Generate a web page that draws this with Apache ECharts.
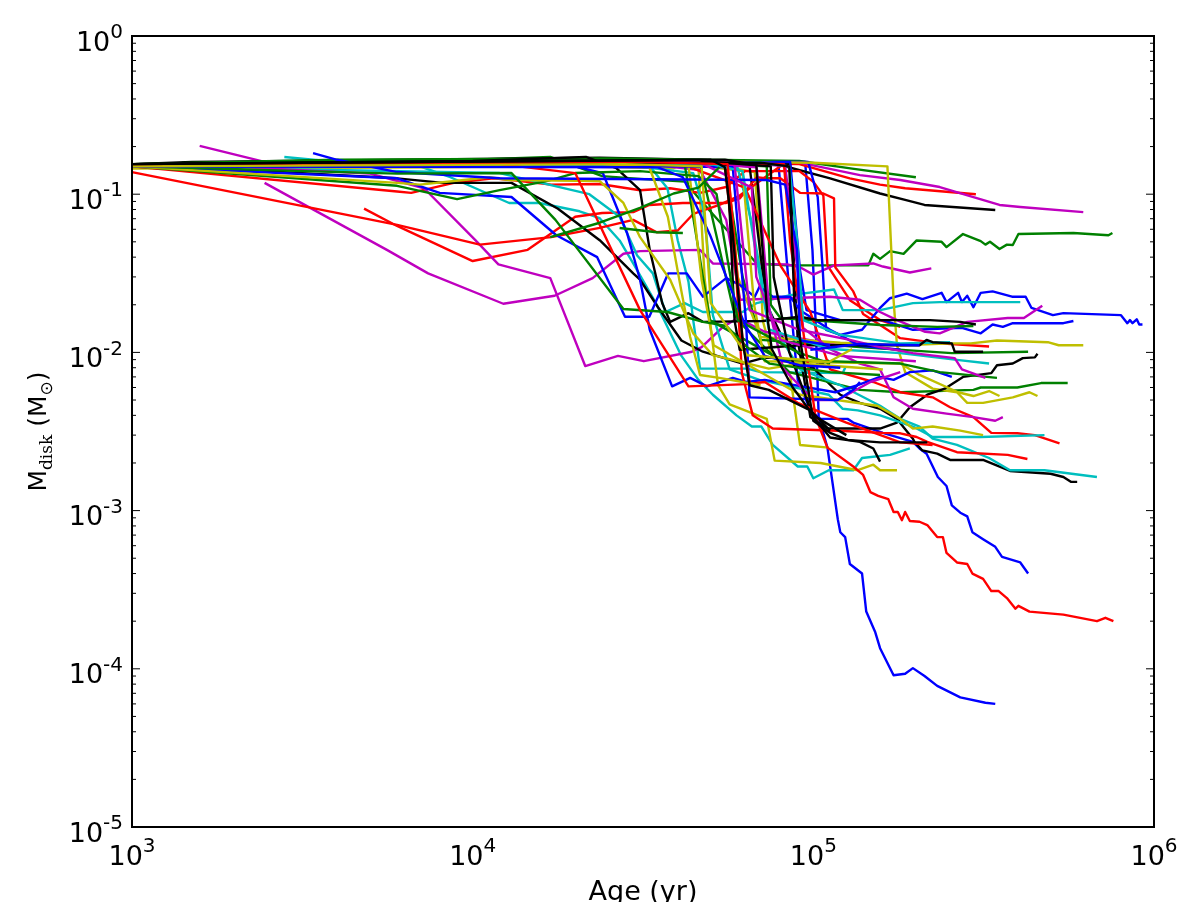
<!DOCTYPE html>
<html lang="en">

<head>
  <meta charset="UTF-8">
  <title>Disk mass vs age</title>
  <script src="https://cdn.jsdelivr.net/npm/echarts@6/dist/echarts.min.js"></script>
  <style>
    body {
      margin: 0;
      background: #fff;
      overflow: hidden;
    }

    #main {
      width: 1177px;
      height: 902px;
    }
  </style>
</head>

<body>
  <div id="main"></div>

  <script>
    // every track is [age in kyr, disk mass in Msun]
    const blue1 = [[1, .152], [20, .158], [60, .16], [94.6, .16], [99.4, .0445], [101.5, .016], [103.7, .0039], [110, .0025], [118, .00088], [120, .00073], [124, .00068], [128, .00046], [139, .0004], [143, .00023], [152, .00017], [157, .000135], [172, .000091], [186, .000093], [196, .000101], [212, .00009], [231, .000078], [270, .000066], [320, .000061], [342, .00006]];
    const green1 = [[1.4, .158], [10, .165], [16.9, .172], [24, .13], [31, .125], [42, .12], [47.4, .088], [68.2, .0365], [83.8, .0355], [145, .0355], [150, .042], [157, .039], [168, .0437], [184, .042], [201, .051], [238, .05], [246, .0463], [275, .056], [310, .0505], [320, .048], [330, .05], [352, .045], [370, .048], [385, .0477], [400, .056], [580, .0568], [735, .055], [755, .0568]];
    const red1 = [[1, .155], [46, .158], [91, .155], [128, .126], [157, .115], [186, .109], [300, .1]];
    const cyan1 = [[2.8, .172], [4, .16], [7, .15], [8.6, .128], [12.8, .088], [15.7, .088], [20.6, .078], [23.6, .0705], [27, .051], [29.6, .0365], [34.5, .0205], [41, .0095], [46, .0067], [50.7, .0054], [59.5, .004], [66, .0034], [70.4, .0034], [76, .0026], [90, .0019], [96, .0019], [100, .0016], [111, .0018], [131, .0018], [139, .00215], [168, .00225], [192, .00247]];
    const magenta1 = [[1.58, .202], [2.45, .16], [6, .158], [23.6, .16], [89, .16], [137, .132], [180, .123], [235, .111], [352, .0855], [405, .083], [620, .077]];
    const olive1 = [[1, .145], [20, .15], [38.9, .146], [42.5, .16], [47.4, .16], [58, .146], [67.3, .138], [69.5, .051], [71, .016], [75.5, .0097], [85.5, .0072], [91.4, .0026], [111, .0025]];
    const black1 = [[1, .155], [1.5, .16], [23.6, .17], [46.5, .165], [80, .153], [112, .126], [157, .101], [186, .092], [212, .0855], [342, .0795]];

    const blue2 = [[1, .15], [30, .155], [79, .155], [85.5, .0214], [90, .0067], [98, .0043], [105, .0038], [126, .0038], [131, .0036], [160, .0031], [196, .00272], [198, .0027], [205, .00247], [215, .00229], [232, .00163], [246, .00143], [255, .00108], [270, .00097], [283, .00092], [293, .00073], [315, .00066], [342, .00059], [358, .00051], [405, .00047], [427, .0004]];
    const green2 = [[1, .155], [4, .165], [25, .168], [91, .162], [130, .145], [200, .128]];
    const red2 = [[1, .15], [6, .104], [6.6, .102], [8.8, .118], [11.5, .126], [13, .123], [17, .115], [23.6, .116], [31, .106], [38, .109], [46.5, .102], [55.5, .111], [63, .14], [91, .14], [100, .12], [107, .098], [110, .0355], [128, .0214], [157, .016], [180, .0145]];
    const cyan2 = [[1, .15], [25, .155], [33.1, .15], [37.3, .109], [40, .051], [43, .028], [44.4, .016], [46.5, .0079], [63.9, .0079], [70, .0075], [122, .0074], [124, .008]];
    const magenta2 = [[2.45, .118], [5.6, .0445], [7.4, .0316], [12.3, .0203], [17.4, .0228], [22.5, .0295], [27.7, .042], [31, .0437], [46.5, .0445], [50.7, .0365], [83.8, .036], [91.4, .0345], [100, .031], [115, .0355], [150, .0365], [160, .0349], [192, .032], [222, .034]];
    const olive2 = [[1.3, .146], [30, .15], [46, .148], [48, .0288], [52.5, .0062], [56.8, .0047], [73, .0038], [77, .00207], [105, .002], [135, .0018], [150, .00195], [157, .0018], [176, .0018]];
    const black2 = [[1, .155], [40, .16], [65, .15], [73, .02], [81, .0125], [120, .0054], [137, .0048], [157, .0044], [176, .0038], [196, .00285], [198, .00272], [209, .0024], [231, .00229], [252, .00209], [315, .00209], [378, .00178], [497, .00171], [542, .00163], [570, .00152], [595, .00152]];

    const blue3 = [[1, .15], [60, .155], [76, .16], [96.6, .16], [103, .096], [106.6, .033], [109, .0139], [120, .0129], [139, .0139], [157, .0191], [168, .022], [188, .0235], [209, .0217], [238, .0238], [246, .0208], [266, .0238], [273, .0208], [283, .0228], [295, .0193], [310, .0238], [336, .0243], [383, .0225], [420, .0225], [437, .0191], [505, .0172], [542, .0177], [800, .0172], [835, .0153], [850, .016], [865, .0153], [890, .0162], [905, .015], [925, .015]];
    const green3 = [[1, .152], [30, .16], [46.5, .155], [59, .0165], [85, .0075], [137, .0058], [180, .0056], [295, .0058], [310, .006], [397, .006], [466, .0064], [558, .0064]];
    const red3 = [[4.8, .081], [6, .063], [10, .0378], [14.5, .0445], [20, .072], [24, .076], [29.6, .077], [33, .0855], [41.4, .088], [55.5, .088], [60.8, .094], [68.2, .128], [73, .126], [80, .126], [91.4, .102], [107, .101], [115, .094], [116, .0345], [131, .0243], [140, .0175], [157, .0149], [180, .0123], [235, .0114], [328, .0109]];
    const cyan3 = [[1, .15], [12, .136], [22, .1], [27, .072], [30.4, .041], [33.8, .0316], [36.8, .018], [41.9, .0205], [47.4, .018], [62, .018], [68.2, .0205], [85.5, .023], [115, .025], [122, .0185], [157, .0185], [196, .0205], [235, .0208], [346, .0208], [405, .0208]];
    const magenta3 = [[1.9, .15], [5, .135], [7.2, .109], [10.2, .051], [11.9, .036], [16.9, .0295], [21.4, .0082], [26.7, .0095], [31.8, .0088], [44, .0101], [47, .0108], [53.9, .0143], [60, .0165], [72, .0135], [112, .0113], [180, .0104]];
    const olive3 = [[2, .148], [30, .16], [60, .16], [100, .158], [165, .15], [172, .0214], [176, .0111], [186, .0075], [224, .0059], [264, .0056], [283, .0048], [315, .0048], [385, .0052], [431, .0056], [455, .0053]];
    const black3 = [[1, .155], [60, .16], [85.5, .155], [88, .03], [90, .012], [98, .0039], [110, .0033], [157, .0033], [176, .0036], [192, .0045], [216, .0054], [243, .0059], [275, .007], [333, .0074], [346, .0083], [385, .0085], [412, .0092], [447, .0093], [455, .0098]];

    const blue4 = [[1, .15], [40, .155], [85.5, .16], [91.4, .033], [95.5, .0185], [120, .016], [160, .016], [196, .0139], [273, .0143], [310, .0132], [336, .015], [360, .0145], [385, .0153], [542, .0153], [580, .0158]];
    const green4 = [[1.3, .155], [40, .158], [55, .15], [62, .03], [70, .012], [137, .0108], [255, .0099], [427, .0101]];
    const red4 = [[1, .138], [6, .064], [10.5, .048], [17, .0535], [23.6, .0612], [29.6, .0688], [34.7, .0575], [40, .059], [44.4, .075], [53, .0855], [60.8, .098], [80, .15]];
    const cyan4 = [[1, .15], [30, .155], [55, .152], [60, .146], [66, .066], [71, .0267], [77, .0143], [91.4, .0078], [120, .0062], [157, .0046], [180, .0038], [205, .0034], [224, .00285], [264, .0026], [328, .00215], [378, .0018], [477, .0018], [680, .00163]];
    const magenta4 = [[1, .152], [30, .158], [46.5, .142], [55.5, .0688], [61, .0215], [112, .0225], [137, .0215], [157, .018], [176, .016], [213, .0135], [235, .0132], [283, .0156], [372, .0165], [415, .0165], [470, .0197]];
    const olive4 = [[1, .15], [35, .158], [56, .15], [60, .03], [70, .0125], [120, .0115], [180, .0111], [255, .0114], [290, .0114], [346, .0119], [488, .0116], [525, .0111], [620, .0111]];
    const black4 = [[1, .155], [6, .126], [8.2, .118], [13, .118], [17.8, .081], [23.6, .0512], [27, .0385], [29.6, .0316], [31, .0288], [35, .0193], [41, .0119], [47.4, .0101], [62, .0085], [71, .0092], [80, .0093], [88.5, .0083], [96, .0078], [111, .0089]];

    const blue5 = [[1, .15], [6, .126], [8, .102], [13, .096], [17.6, .055], [23.2, .04], [28, .0168], [33, .0168], [37.5, .0316], [42.5, .0316], [47.4, .0225], [55.5, .0295], [60.8, .0267], [67.3, .0225], [69.5, .026], [76, .0225], [85.5, .0225], [91.4, .0185], [112, .0139], [137, .011], [180, .0104]];
    const green5 = [[1, .15], [50, .156], [73, .15], [75, .02], [80, .0165], [157, .0149], [231, .0145], [295, .0147]];
    const red5 = [[1, .15], [40, .158], [63, .11], [80, .0355], [98, .018], [112, .0078], [150, .0065], [180, .0056], [224, .0052], [252, .0045], [295, .0039], [333, .0031], [397, .00308], [447, .003], [528, .00266]];
    const cyan5 = [[1, .15], [25, .158], [44.4, .136], [47.4, .083], [48.7, .051], [50.7, .0172], [56.8, .0078], [69.5, .0067], [111, .0054], [122, .0044], [135, .0043], [157, .004], [196, .0034], [224, .00292], [310, .00292], [477, .003]];
    const magenta5 = [[1, .152], [60, .16], [82.7, .15], [89.6, .035], [93.3, .0143], [112, .0105], [137, .0085], [157, .0078], [172, .0052], [196, .0044], [246, .0041], [295, .0039], [342, .0037], [360, .0039]];
    const olive5 = [[1, .15], [38, .16], [62, .14], [67, .02], [72, .0088], [180, .0085], [205, .0072], [266, .0056], [295, .0053], [328, .0057], [352, .0053]];
    const black5 = [[1, .155], [10, .162], [21.5, .172], [26.4, .146], [31, .106], [33.1, .0445], [36, .0205], [38, .0156], [43, .0177], [47.4, .0156], [71, .0158], [91.4, .0168], [103, .016], [157, .016], [220, .016], [270, .0156], [300, .015]];

    const blue6 = [[1, .15], [20, .15], [24.1, .136], [28.4, .0568], [31, .0288], [33.1, .0139], [38.5, .0061], [43.5, .0069], [48.7, .0061], [58, .0069], [63.5, .0065], [72, .0067], [116, .0056], [135, .0062], [157, .007], [172, .0067], [192, .0075], [224, .0077], [255, .007]];
    const green6 = [[1, .152], [30, .158], [42, .15], [49.7, .016], [80, .009], [180, .0085], [235, .0075], [346, .0069]];
    const red6 = [[1, .15], [30, .155], [55, .158], [59.5, .0288], [61.7, .0074], [66.4, .004], [76, .0033], [118, .0032], [160, .0031], [180, .00308], [201, .00292], [216, .00272], [264, .00234], [372, .00225], [425, .00212]];
    const cyan6 = [[1, .15], [70, .158], [85, .15], [89.6, .051], [93.3, .016], [120, .0129], [180, .0114], [252, .0116]];
    const magenta6 = [[1, .15], [40, .16], [68.2, .148], [74.3, .0185], [81.6, .0079], [100, .005], [118, .005], [147, .0065], [180, .0075]];
    const olive6 = [[1, .15], [35, .155], [43, .152], [47, .0288], [51, .0111], [91.4, .0054], [154, .0046], [180, .0038], [196, .0033], [224, .0034], [270, .0032], [315, .003]];
    const black6 = [[1, .155], [45, .16], [56, .153], [58.7, .016], [60.8, .0104], [91, .0111], [205, .0111], [215, .012], [224, .0116], [255, .0114], [260, .0101], [315, .0101]];

    const blue7 = [[1, .15], [40, .15], [58, .148], [63.5, .0153], [65, .0052], [118, .005], [131, .0058], [137, .0065]];
    const green7 = [[1, .15], [6, .113], [9, .093], [12, .106], [16.5, .121], [20, .136], [31, .14], [46, .13], [52, .1], [60, .016], [90, .01], [112, .0085]];
    const red7 = [[1, .15], [50, .158], [82, .155], [85.5, .05], [91, .02], [101.5, .0039], [110, .0025], [131, .0019], [140, .00168], [147, .00131], [155, .00124], [166, .00118], [172, .00098], [177, .00098], [182, .00087], [186, .00098], [192, .00086], [205, .00085], [216, .00081], [231, .00068], [240, .00068], [246, .00054], [264, .00047], [283, .00046], [293, .0004], [315, .00037], [333, .00031], [350, .00031], [370, .00028], [392, .00024], [400, .00025], [431, .00023], [542, .00022], [680, .0002], [720, .00021], [760, .0002]];
    const cyan7 = [[1, .15], [50, .155], [62, .14], [67, .05], [74, .014], [112, .0105], [180, .0099], [260, .009], [328, .0085]];
    const magenta7 = [[1, .152], [50, .16], [58.7, .155], [62, .05], [65, .0185], [91, .0139], [128, .012], [157, .0108], [196, .0099], [260, .0092], [273, .0078], [320, .0069]];
    const olive7 = [[1, .15], [6, .118], [7, .115], [11.2, .128], [12.8, .123], [23.6, .121], [27.7, .088], [31, .0535], [38, .0288], [44.4, .0132], [50.7, .0096], [74, .0079], [91, .0085], [160, .0078]];
    const black7 = [[1, .152], [50, .16], [75, .15], [76.5, .03], [85, .01], [100, .0039], [112, .0029], [137, .00272], [150, .00247], [157, .00204]];

    const blue8 = [[3.4, .182], [4, .165], [6, .138], [12, .126], [73, .123], [82.7, .115], [89.6, .0445], [91.4, .0119], [112, .0111]];
    const green8 = [[1, .15], [6, .135], [13, .136], [17.5, .0688], [27.7, .0188], [37.3, .018], [47.4, .0156], [55.5, .0147], [63.9, .0108], [74.3, .0085], [112, .0075], [157, .0072]];
    const red8 = [[1, .155], [12, .155], [20, .136], [31, .0185], [43, .0061], [64, .0063], [72, .0065], [90, .0048], [125, .0036], [180, .0027], [224, .0026]];
    const magenta8 = [[1, .15], [46, .16], [66, .11], [68, .03], [80, .012], [120, .0095], [200, .0088]];
    const olive8 = [[1, .152], [20, .16], [33, .148], [37.4, .072], [41, .0243], [43.5, .0125], [46.5, .0072], [53, .0069], [70, .0062]];
    const black8 = [[1, .155], [70, .158], [85, .15], [88, .02], [100, .0037], [112, .0031], [126, .0028], [157, .0027], [216, .0027]];

    const blue9 = [[1, .15], [35, .148], [41.4, .128], [49.7, .0555], [63, .0149], [72, .0095], [91, .0083], [120, .008]];
    const green9 = [[27, .0612], [34.7, .0575], [41.4, .0568]];
    const red9 = [[1, .152], [30, .16], [56, .155], [58.7, .05], [62, .012], [65, .0065]];
    const olive9 = [[1, .15], [28, .155], [47, .15], [50, .0205], [63.9, .0096], [111, .0087], [130, .0105]];
    const black9 = [[1, .155], [50, .165], [55, .148], [58, .0555], [62, .0119], [65, .0062], [74, .0058], [98, .0043], [112, .0032]];

    const blue10 = [[98, .0104], [137, .0113], [205, .0111]];
    const green10 = [[16.9, .0535], [23.6, .066], [31, .082], [38.9, .101], [46, .11], [53, .148]];
    const black10 = [[1, .155], [55, .165], [68, .153], [73.5, .016], [75.5, .0105], [87, .006], [100, .004], [125, .003]];

    const palette = {
      b: '#0000ff',
      g: '#008000',
      r: '#ff0000',
      c: '#00bfbf',
      m: '#bf00bf',
      y: '#bfbf00',
      k: '#000000'
    };

    const tracks = [
      ['b', blue1], ['g', green1], ['r', red1], ['c', cyan1], ['m', magenta1], ['y', olive1], ['k', black1],
      ['b', blue2], ['g', green2], ['r', red2], ['c', cyan2], ['m', magenta2], ['y', olive2], ['k', black2],
      ['b', blue3], ['g', green3], ['r', red3], ['c', cyan3], ['m', magenta3], ['y', olive3], ['k', black3],
      ['b', blue4], ['g', green4], ['r', red4], ['c', cyan4], ['m', magenta4], ['y', olive4], ['k', black4],
      ['b', blue5], ['g', green5], ['r', red5], ['c', cyan5], ['m', magenta5], ['y', olive5], ['k', black5],
      ['b', blue6], ['g', green6], ['r', red6], ['c', cyan6], ['m', magenta6], ['y', olive6], ['k', black6],
      ['b', blue7], ['g', green7], ['r', red7], ['c', cyan7], ['m', magenta7], ['y', olive7], ['k', black7],
      ['b', blue8], ['g', green8], ['r', red8], ['m', magenta8], ['y', olive8], ['k', black8],
      ['b', blue9], ['g', green9], ['r', red9], ['y', olive9], ['k', black9],
      ['b', blue10], ['g', green10], ['k', black10]
    ];

    const xMajor = [1e3, 1e4, 1e5, 1e6];
    const yMajor = [1e-5, 1e-4, 1e-3, 1e-2, 1e-1, 1];
    const minorSteps = [2, 3, 4, 5, 6, 7, 8, 9];
    const ageName = 'Age (yr)';

    const FONT = '"DejaVu Sans", sans-serif';

    // top/right ticks and the minor ticks, log axes have no usable ones of their own
    function tick_rows() {
      const rows = [];
      xMajor.forEach((v, i) => {
        rows.push(['x', v, 8, i]);
        if (i < xMajor.length - 1) minorSteps.forEach(s => rows.push(['x', v * s, 4, i]));
      });
      yMajor.forEach((v, i) => {
        rows.push(['y', v, 8, i]);
        if (i < yMajor.length - 1) minorSteps.forEach(s => rows.push(['y', v * s, 4, i]));
      });
      return rows;
    }

    function draw_tick(params, api) {
      const side = api.value(0);
      const v = api.value(1);
      const len = api.value(2);
      const lines = [];
      if (side === 'x') {
        const a = api.coord([v, yMajor[0]]);
        const b = api.coord([v, yMajor[yMajor.length - 1]]);
        lines.push({ x1: a[0], y1: a[1], x2: a[0], y2: a[1] - len });
        lines.push({ x1: b[0], y1: b[1], x2: b[0], y2: b[1] + len });
      } else {
        const a = api.coord([xMajor[0], v]);
        const b = api.coord([xMajor[xMajor.length - 1], v]);
        lines.push({ x1: a[0], y1: a[1], x2: a[0] + len, y2: a[1] });
        lines.push({ x1: b[0], y1: b[1], x2: b[0] - len, y2: b[1] });
      }
      return {
        type: 'group',
        children: lines.map(shape => ({
          type: 'line',
          shape,
          style: { stroke: '#000', lineWidth: 1 }
        }))
      };
    }

    function power_label(value) {
      return '{base|10}{exp|' + Math.round(Math.log10(value)) + '}';
    }

    const labelRich = {
      base: { fontFamily: FONT, fontSize: 27, color: '#000', lineHeight: 34, verticalAlign: 'bottom' },
      exp: { fontFamily: FONT, fontSize: 20, color: '#000', lineHeight: 34, verticalAlign: 'top', padding: [0, 0, 10, 0] }
    };

    const series = tracks.map(([color, points]) => ({
      type: 'line',
      data: points.map(p => [p[0] * 1000, p[1]]),
      showSymbol: false,
      symbol: 'none',
      smooth: false,
      clip: true,
      silent: true,
      lineStyle: { color: palette[color], width: 2.4, join: 'round' }
    }));

    series.push({
      type: 'custom',
      data: tick_rows(),
      renderItem: draw_tick,
      silent: true,
      clip: false,
      encode: { x: 1 },
      z: 5
    });

    var myChart = echarts.init(document.getElementById('main'), null, { renderer: 'canvas' });
    var option = {
      animation: false,
      backgroundColor: '#fff',
      grid: {
        show: true,
        left: 132,
        right: 23,
        top: 36,
        bottom: 75,
        outerBoundsMode: 'none',
        borderColor: '#000',
        borderWidth: 2,
        z: 6
      },
      xAxis: {
        type: 'log',
        logBase: 10,
        min: 1e3,
        max: 1e6,
        name: ageName,
        nameLocation: 'middle',
        nameGap: 52,
        nameTextStyle: { fontFamily: FONT, fontSize: 27, color: '#000' },
        axisLine: { show: false },
        axisTick: { show: false },
        splitLine: { show: false },
        minorTick: { show: false },
        axisLabel: { formatter: power_label, rich: labelRich, margin: 10, hideOverlap: false }
      },
      yAxis: {
        type: 'log',
        logBase: 10,
        min: 1e-5,
        max: 1,
        name: '{m|M}{sub|disk}{m| (M}{sym|\u2299}{m|)}',
        nameLocation: 'middle',
        nameGap: 76,
        nameRotate: 90,
        nameTextStyle: {
          rich: {
            m: { fontFamily: FONT, fontSize: 25, color: '#000', lineHeight: 34 },
            sub: { fontFamily: '"DejaVu Serif", serif', fontSize: 17, color: '#000', lineHeight: 34, verticalAlign: 'bottom', padding: [10, 0, 0, 0] },
            sym: { fontFamily: FONT, fontSize: 17, color: '#000', lineHeight: 34, verticalAlign: 'bottom', padding: [10, 0, 0, 0] }
          }
        },
        axisLine: { show: false },
        axisTick: { show: false },
        splitLine: { show: false },
        minorTick: { show: false },
        axisLabel: { formatter: power_label, rich: labelRich, margin: 9, padding: [8, 0, 0, 0], hideOverlap: false }
      },
      series
    };

    option && myChart.setOption(option);
  </script>
</body>

</html>
